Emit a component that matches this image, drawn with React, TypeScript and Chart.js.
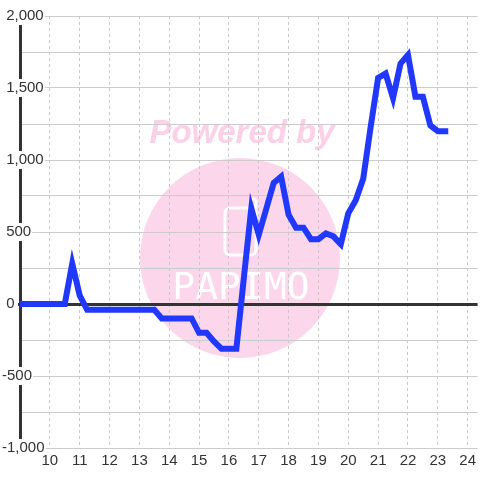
import React, { useEffect, useRef } from 'react';
import { Chart, registerables } from 'chart.js';

Chart.register(...registerables);

// Time of day (hours, quarter-hour steps)
const hours = [
  9, 9.25, 9.5, 9.75, 10, 10.25, 10.5, 10.75, 11, 11.25, 11.5, 11.75,
  12, 12.25, 12.5, 12.75, 13, 13.25, 13.5, 13.75, 14, 14.25, 14.5, 14.75,
  15, 15.25, 15.5, 15.75, 16, 16.25, 16.5, 16.75, 17, 17.25, 17.5, 17.75,
  18, 18.25, 18.5, 18.75, 19, 19.25, 19.5, 19.75, 20, 20.25, 20.5, 20.75,
  21, 21.25, 21.5, 21.75, 22, 22.25, 22.5, 22.75, 23, 23.25,
];

const values = [
  0, 0, 0, 0, 0, 0, 0, 280, 60, -40, -40, -40,
  -40, -40, -40, -40, -40, -40, -40, -100, -100, -100, -100, -100,
  -200, -200, -260, -310, -310, -310, 180, 665, 480, 660, 840, 885,
  620, 530, 530, 450, 450, 490, 470, 415, 630, 720, 870, 1230,
  1570, 1600, 1430, 1670, 1730, 1440, 1440, 1240, 1200, 1200,
];

const xTickLabels = [10, 11, 12, 13, 14, 15, 16, 17, 18, 19, 20, 21, 22, 23, 24];
const yLabelTicks = [-1000, -500, 0, 500, 1000, 1500, 2000];

const FONT = 'Liberation Sans, Arial, sans-serif';

const watermark = {
  id: 'watermark',
  beforeDraw(chart: any) {
    const ctx = chart.ctx as CanvasRenderingContext2D;
    ctx.save();
    ctx.fillStyle = '#ffffff';
    ctx.fillRect(0, 0, chart.width, chart.height);
    // pink disc
    ctx.fillStyle = '#fcd6eb';
    ctx.beginPath();
    ctx.arc(240, 258, 100, 0, Math.PI * 2);
    ctx.fill();
    // "Powered by"
    ctx.fillStyle = '#fcd0e7';
    ctx.font = 'italic bold 33px "Liberation Sans", Arial, sans-serif';
    ctx.textAlign = 'center';
    ctx.textBaseline = 'middle';
    ctx.fillText('Powered by', 242, 134);
    // phone icon
    ctx.strokeStyle = '#ffffff';
    ctx.lineWidth = 3;
    ctx.beginPath();
    if ((ctx as any).roundRect) {
      (ctx as any).roundRect(225, 208, 31, 47, 5);
    } else {
      ctx.rect(225, 208, 31, 47);
    }
    ctx.stroke();
    ctx.beginPath();
    if ((ctx as any).roundRect) {
      (ctx as any).roundRect(250, 199, 6, 10, 3);
    } else {
      ctx.rect(250, 199, 6, 10);
    }
    ctx.stroke();
    // logo text
    ctx.fillStyle = '#ffffff';
    ctx.font = '38px "DejaVu Sans Mono", monospace';
    ctx.fillText('PAPIMO', 241, 289);
    ctx.restore();
  },
};

export default function App() {
  const canvasRef = useRef<HTMLCanvasElement | null>(null);

  useEffect(() => {
    if (!canvasRef.current) return;
    const isZero = (c: any) => c && c.tick && c.tick.value === 0;
    const chart = new Chart(canvasRef.current, {
      type: 'line',
      data: {
        datasets: [
          {
            data: hours.map((h, i) => ({ x: h, y: values[i] })),
            borderColor: '#2038ff',
            borderWidth: 6,
            pointRadius: 0,
            pointHoverRadius: 0,
            fill: false,
            tension: 0,
            borderCapStyle: 'square',
            borderJoinStyle: 'miter',
          },
        ],
      },
      options: {
        responsive: false,
        animation: false,
        events: [],
        layout: { padding: { left: 2, top: 16, right: 0, bottom: 0 } },
        plugins: {
          legend: { display: false },
          tooltip: { enabled: false },
        },
        scales: {
          x: {
            type: 'linear',
            min: 9,
            max: 24.333,
            afterBuildTicks: (s: any) => {
              s.ticks = s.ticks.filter((t: any) => xTickLabels.includes(t.value));
            },
            afterFit: (s: any) => {
              s.height = 32;
            },
            grid: { color: '#c8c8c8', lineWidth: 1, drawTicks: false },
            border: { display: false, dash: [3, 3] },
            ticks: {
              z: 1,
              stepSize: 1,
              includeBounds: false,
              padding: 4,
              color: '#333',
              autoSkip: false,
              maxRotation: 0,
              font: { family: FONT, size: 15 },
              callback: (v: any) => String(v),
            },
          },
          y: {
            type: 'linear',
            min: -1000,
            max: 2000,
            afterFit: (s: any) => {
              s.width = 18;
            },
            grid: {
              color: (c: any) => (isZero(c) ? '#333333' : '#cccccc'),
              lineWidth: (c: any) => (isZero(c) ? 3 : 1),
              drawTicks: true,
              tickLength: 2,
              tickColor: (c: any) => (isZero(c) ? '#333333' : 'rgba(0,0,0,0)'),
              tickWidth: (c: any) => (isZero(c) ? 3 : 1),
            },
            border: { display: true, color: '#333333', width: 3 },
            ticks: {
              stepSize: 250,
              mirror: true,
              crossAlign: 'near',
              padding: -18,
              color: '#333',
              font: { family: FONT, size: 15 },
              showLabelBackdrop: true,
              backdropColor: '#ffffff',
              backdropPadding: { left: 1, right: 1, top: 0, bottom: 0 },
              callback: (v: any) =>
                yLabelTicks.includes(v)
                  ? (v >= 0 ? ' ' : '') + Number(v).toLocaleString('en-US')
                  : '',
            },
          },
        },
      },
      plugins: [watermark],
    } as any);
    return () => chart.destroy();
  }, []);

  return (
    <div style={{ position: 'absolute', left: 0, top: 0, width: 480, height: 480 }}>
      <canvas ref={canvasRef} width={480} height={480} />
    </div>
  );
}
